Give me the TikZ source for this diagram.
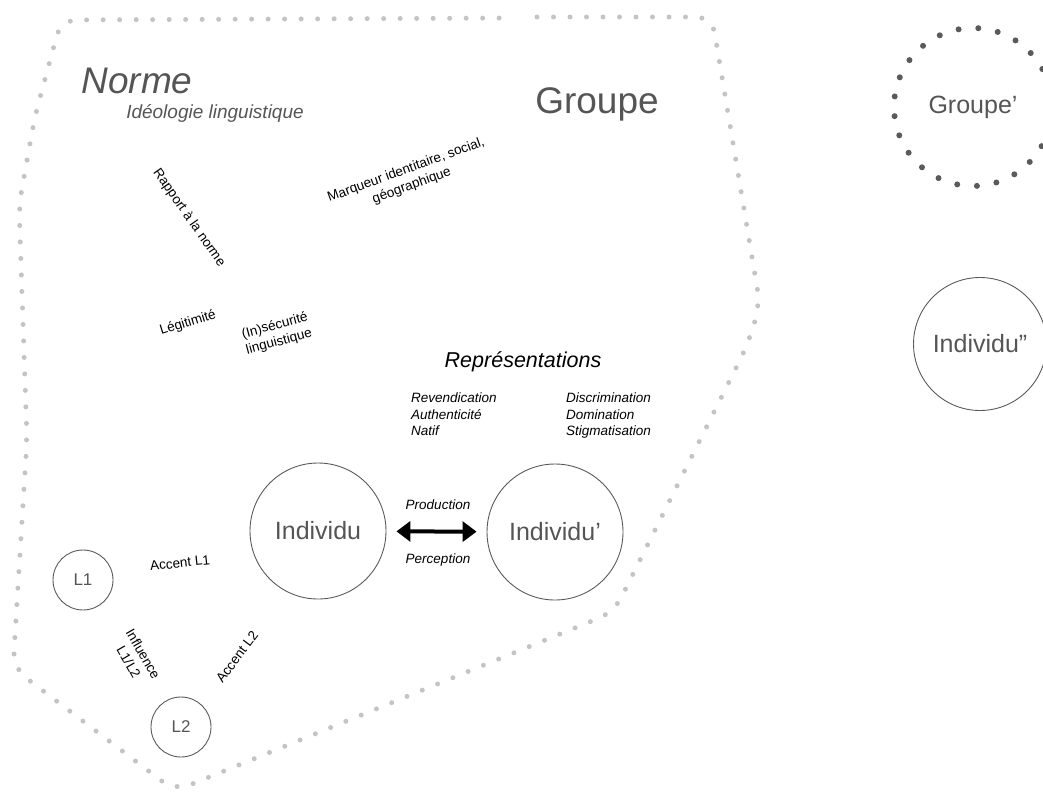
\documentclass[tikz,border=0pt]{standalone}
\usepackage{fontspec}
\setmainfont{Liberation Sans}
\usetikzlibrary{arrows.meta}
\definecolor{txtgray}{HTML}{555555}
\definecolor{dotgray}{HTML}{C4C4C4}
\definecolor{ringgray}{HTML}{5A5A5A}
\newcommand{\fsz}[2]{\fontsize{#1}{#2}\selectfont}
\begin{document}
\begin{tikzpicture}[x=1pt,y=-1pt,
  grouppath/.style={draw=dotgray,line width=5pt,line cap=round,dash pattern=on 0pt off 16.5pt,rounded corners=16pt},
  groupring/.style={circle,draw=ringgray,line width=6pt,line cap=round,dash pattern=on 0pt off 19.8pt,minimum size=158pt,inner sep=0pt,text=txtgray,font=\fsz{25}{30}},
  person/.style={circle,draw=ringgray,line width=0.9pt,minimum size=136pt,inner sep=0pt,text=txtgray,font=\fsz{25}{30}},
  lang/.style={circle,draw=ringgray,line width=0.9pt,minimum size=60pt,inner sep=0pt,text=txtgray,font=\fsz{17}{20}},
  lab/.style={font=\fsz{13.5}{16.5},inner sep=0pt,align=center},
  ilab/.style={font=\fsz{13.5}{16.5}\itshape,inner sep=0pt,align=left},
  bigarrow/.style={line width=4pt,{Triangle[length=14pt,width=20pt]}-{Triangle[length=14pt,width=20pt]},shorten <=10pt,shorten >=10pt}
]
\useasboundingbox (0,0) rectangle (1043,792);
% group boundary
\draw[grouppath] (537,17) -- (712,17) -- (760,305) -- (747,346) -- (614,612) -- (175,791) -- (13,668) -- (27,440) -- (19,205) -- (35,116) -- (61,20) -- (512,18);
% titles
\node[font=\fsz{37}{42}\itshape,text=txtgray,inner sep=0pt] (norme) at (137,81) {Norme};
\node[font=\fsz{19}{22}\itshape,text=txtgray,inner sep=0pt] (ideo) at (215,113) {Idéologie linguistique};
\node[font=\fsz{37}{42},text=txtgray,inner sep=0pt] (groupe) at (597,104) {Groupe};
% rotated labels
\node[lab,rotate=-55] (rapport) at (189,218) {Rapport à la norme};
\node[lab,rotate=20] (marqueur) at (409,178) {Marqueur identitaire, social,\\géographique};
\node[lab,rotate=17] (legit) at (188,323) {Légitimité};
\node[lab,align=left,rotate=15] (insec) at (277,334) {(In)sécurité\\linguistique};
% representations
\node[font=\fsz{21.5}{25}\itshape,inner sep=0pt] (repr) at (523,362) {Représentations};
\node[ilab,anchor=north west] (repl) at (411,393) {Revendication\\Authenticité\\Natif};
\node[ilab,anchor=north west] (repr2) at (566,393) {Discrimination\\Domination\\Stigmatisation};
% individuals
\node[person] (indiv) at (318,531) {Individu};
\node[person] (indivp) at (555,532) {Individu’};
\node[person,minimum size=133pt] (indivpp) at (980,344) {Individu”};
\node[groupring] (groupep) at (973,107) {Groupe’};
\draw[bigarrow] (indiv) -- (indivp);
\node[ilab] (prod) at (438,505) {Production};
\node[ilab] (perc) at (438,560) {Perception};
% languages
\node[lang] (l1) at (83,580) {L1};
\node[lang] (l2) at (181,727) {L2};
\node[lab,rotate=6] (acc1) at (180,563) {Accent L1};
\node[lab,rotate=-60] (infl) at (136,658) {Influence\\L1/L2};
\node[lab,rotate=53] (acc2) at (237,657) {Accent L2};
\end{tikzpicture}
\end{document}
